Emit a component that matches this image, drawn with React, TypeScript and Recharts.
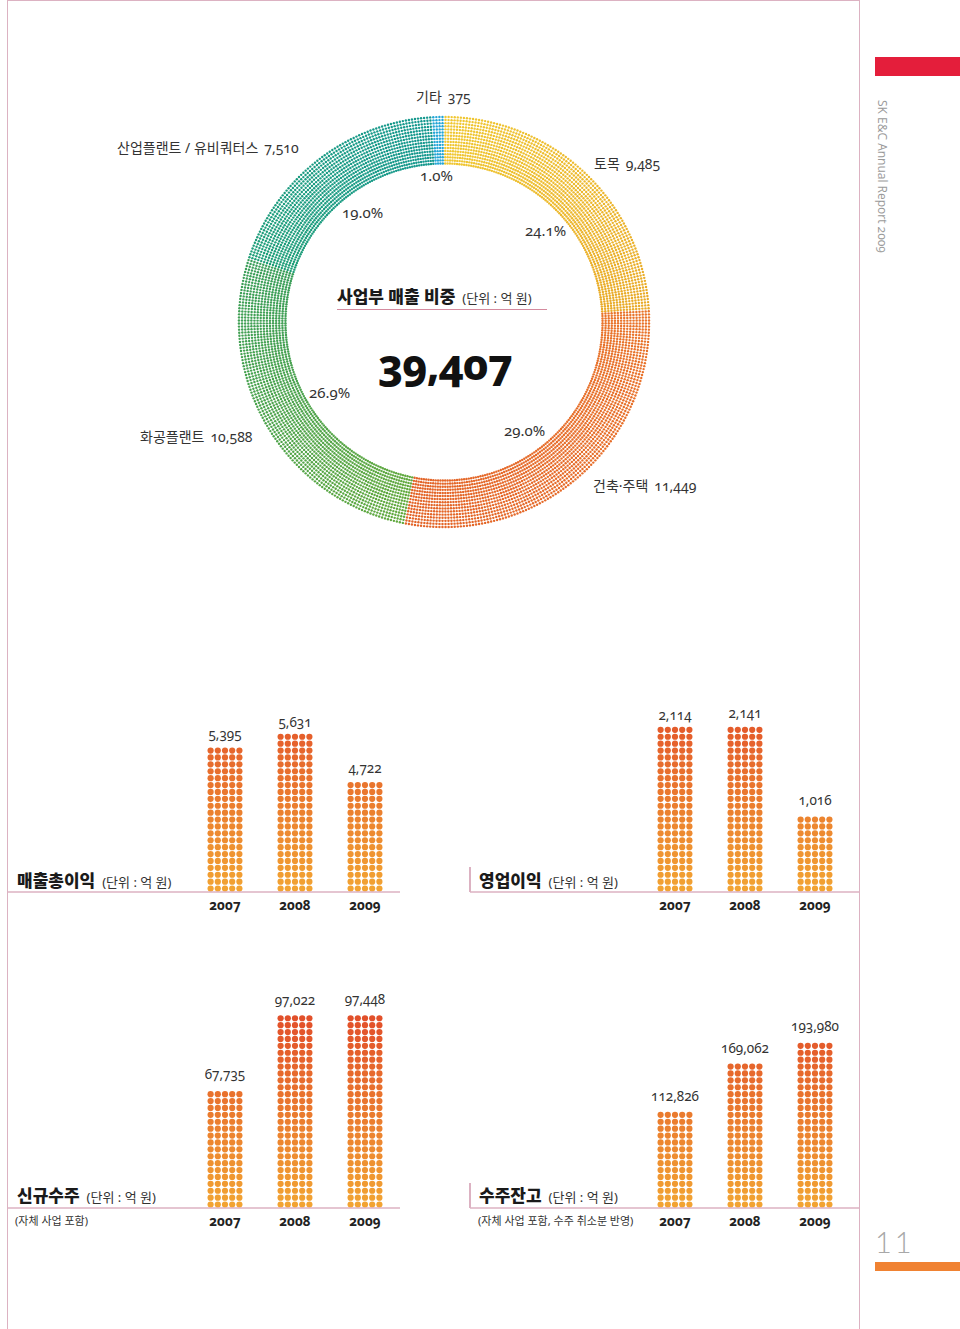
import React from "react";
import { PieChart, Pie, BarChart, Bar, XAxis, YAxis, LabelList } from "recharts";

// 사업부 매출 비중 (단위: 억 원), clockwise from 12 o'clock
const SEGMENT_NAMES = ["토목", "건축·주택", "화공플랜트", "산업플랜트 / 유비쿼터스", "기타"];
const SEGMENT_VALUES = [9485, 11449, 10588, 7510, 375];
const SEGMENT_SHARES = ["24.1%", "29.0%", "26.9%", "19.0%", "1.0%"];
const TOTAL_SALES = 39407;

const YEARS = ["2007", "2008", "2009"];
const GROSS_PROFIT = [5395, 5631, 4722];
const OPERATING_PROFIT = [2114, 2141, 1016];
const NEW_ORDERS = [67735, 97022, 97448];
const ORDER_BACKLOG = [112826, 169062, 193980];

const FONT = "'Noto Sans', 'Noto Sans CJK KR', sans-serif";
const PINK = "#dcb2c2";

// slice colours (start -> end, clockwise)
const SLICE_COLORS: [string, string][] = [
  ["#f0c832", "#e9aa28"],
  ["#e9742a", "#e36428"],
  ["#62a93e", "#3a9e5a"],
  ["#1f9e78", "#15988f"],
  ["#24a6d6", "#24a6d6"],
];
// label anchors: [left, centerY]
const NAME_POS = [[594, 164], [593, 486], [140, 437], [117, 148], [416, 97]];
const SHARE_POS = [[525, 230], [504, 430], [309, 392], [342, 212], [420, 175]];

const SPOKES = 420;
const RING_STEP = 3.1;
const BAR_COLS = 5;
const ROW_STEP = 6.9;
const BAR_BOTTOM = "#f2a332";
const BAR_TOP = "#e2502a";

function hexToRgb(h: string) {
  const n = parseInt(h.slice(1), 16);
  return [(n >> 16) & 255, (n >> 8) & 255, n & 255];
}
function lerpColor(a: string, b: string, t: number) {
  const ca = hexToRgb(a);
  const cb = hexToRgb(b);
  const c = ca.map((v, i) => Math.round(v + (cb[i] - v) * t));
  return `rgb(${c[0]},${c[1]},${c[2]})`;
}

// dotted ring: draws spokes of small dots inside each pie sector
function renderRingDots(props: any) {
  const { cx, cy, innerRadius, outerRadius, startAngle, endAngle, index } = props;
  const [c0, c1] = SLICE_COLORS[index] ?? ["#999", "#999"];
  const lo = Math.min(startAngle, endAngle);
  const hi = Math.max(startAngle, endAngle);
  const span = hi - lo || 1;
  const step = 360 / SPOKES;
  const rows = Math.floor((outerRadius - innerRadius) / RING_STEP);
  const dots: React.ReactElement[] = [];
  const kStart = Math.ceil(lo / step - 0.5);
  for (let k = kStart; (k + 0.5) * step < hi; k++) {
    const a = (k + 0.5) * step;
    if (a < lo) continue;
    const fill = lerpColor(c0, c1, (startAngle - a) / (startAngle - endAngle || span));
    const rad = (-a * Math.PI) / 180;
    for (let r = 0; r < rows; r++) {
      const rr = innerRadius + RING_STEP * (r + 0.5);
      dots.push(
        <circle key={`${k}-${r}`} cx={cx + rr * Math.cos(rad)} cy={cy + rr * Math.sin(rad)} r={1.2} fill={fill} />
      );
    }
  }
  return <g key={`ring-${index}`}>{dots}</g>;
}

function DotBar(props: any) {
  const { x, y, width, height } = props;
  if (!height || height <= 0) return null;
  const rows = Math.max(1, Math.round(height / ROW_STEP));
  const bottom = y + height;
  const colStep = width / BAR_COLS;
  const dots: React.ReactElement[] = [];
  for (let r = 0; r < rows; r++) {
    const fill = lerpColor(BAR_BOTTOM, BAR_TOP, Math.min(1, r / 27));
    const cyy = bottom - ROW_STEP * (r + 0.5);
    for (let c = 0; c < BAR_COLS; c++) {
      dots.push(<circle key={`${r}-${c}`} cx={x + colStep * (c + 0.5)} cy={cyy} r={3.1} fill={fill} />);
    }
  }
  return <g>{dots}</g>;
}

interface DotBarChartProps {
  values: number[];
  domain: [number, number];
  left: number;
  top: number;
  width: number;
  plotHeight: number;
  padLeft: number;
  padRight: number;
}

function DotBarChart({ values, domain, left, top, width, plotHeight, padLeft, padRight }: DotBarChartProps) {
  const data = YEARS.map((year, i) => ({ year, value: values[i] }));
  return (
    <div style={{ position: "absolute", left, top }}>
      <BarChart
        width={width}
        height={20 + plotHeight + 38}
        data={data}
        margin={{ top: 20, right: 0, bottom: 0, left: 0 }}
        barSize={36}
      >
        <XAxis
          dataKey="year"
          height={38}
          interval={0}
          padding={{ left: padLeft, right: padRight }}
          axisLine={{ stroke: PINK, strokeWidth: 1.5 }}
          tickLine={false}
          tick={{ fontSize: 13.5, fontWeight: 700, fill: "#222" }}
        />
        <YAxis hide type="number" domain={domain} allowDataOverflow />
        <Bar dataKey="value" shape={DotBar} isAnimationActive={false}>
          <LabelList
            dataKey="value"
            position="top"
            offset={9}
            fill="#333"
            fontSize={13.5}
            formatter={(v: any) => Number(v).toLocaleString("en-US")}
          />
        </Bar>
      </BarChart>
    </div>
  );
}

function Txt({ left, cy, size, children, style }: any) {
  return (
    <div
      style={{
        position: "absolute",
        left,
        top: cy,
        transform: "translateY(-50%)",
        fontSize: size,
        lineHeight: 1,
        whiteSpace: "nowrap",
        color: "#333",
        ...style,
      }}
    >
      {children}
    </div>
  );
}

function Title({ left, cy, title, unit = true }: { left: number; cy: number; title: string; unit?: boolean }) {
  return (
    <Txt left={left} cy={cy} size={17} style={{ color: "#1a1a1a" }}>
      <span style={{ fontWeight: 900 }}>{title}</span>
      {unit && <span style={{ fontSize: 13, marginLeft: 7, color: "#333" }}>(단위 : 억 원)</span>}
    </Txt>
  );
}

export default function App() {
  const pieData = SEGMENT_NAMES.map((name, i) => ({ name, value: SEGMENT_VALUES[i] }));

  return (
    <div
      style={{
        position: "absolute",
        left: 0,
        top: 0,
        width: 960,
        height: 1329,
        background: "#fff",
        overflow: "hidden",
        fontFamily: FONT,
        fontVariantNumeric: "oldstyle-nums",
      }}
    >
      {/* page frame */}
      <div
        style={{
          position: "absolute",
          left: 7,
          top: 0,
          width: 851,
          height: 1340,
          borderLeft: `1.5px solid ${PINK}`,
          borderTop: `1.5px solid ${PINK}`,
          borderRight: `1.5px solid ${PINK}`,
        }}
      />

      {/* side decorations */}
      <div style={{ position: "absolute", left: 875, top: 57, width: 85, height: 19, background: "#e41e3b" }} />
      <div
        style={{
          position: "absolute",
          left: 874,
          top: 100,
          writingMode: "vertical-rl",
          fontFamily: "'Open Sans', sans-serif",
          fontSize: 12,
          color: "#9a9a9a",
          whiteSpace: "nowrap",
        }}
      >
        SK E&amp;C Annual Report 2009
      </div>
      <div
        style={{
          position: "absolute",
          left: 875,
          top: 1227,
          fontFamily: "Lato, sans-serif",
          fontWeight: 300,
          fontSize: 29,
          letterSpacing: 3,
          color: "#a8a8a8",
          lineHeight: 1,
          fontVariantNumeric: "lining-nums",
        }}
      >
        11
      </div>
      <div style={{ position: "absolute", left: 875, top: 1262, width: 85, height: 9, background: "#f08232" }} />

      {/* donut */}
      <div style={{ position: "absolute", left: 224, top: 102 }}>
        <PieChart width={440} height={440} margin={{ top: 0, right: 0, bottom: 0, left: 0 }}>
          <Pie
            data={pieData}
            dataKey="value"
            cx={220}
            cy={220}
            innerRadius={157}
            outerRadius={208}
            startAngle={90}
            endAngle={-270}
            fill="none"
            stroke="none"
            label={renderRingDots}
            labelLine={false}
            isAnimationActive={false}
          />
        </PieChart>
      </div>
      {SEGMENT_NAMES.map((name, i) => (
        <Txt key={name} left={NAME_POS[i][0]} cy={NAME_POS[i][1]} size={14}>
          {name}
          <span style={{ marginLeft: 6 }}>{SEGMENT_VALUES[i].toLocaleString("en-US")}</span>
        </Txt>
      ))}
      {SEGMENT_SHARES.map((s, i) => (
        <Txt key={s} left={SHARE_POS[i][0]} cy={SHARE_POS[i][1]} size={15}>
          {s}
        </Txt>
      ))}
      <Title left={337} cy={296} title="사업부 매출 비중" />
      <div style={{ position: "absolute", left: 337, top: 309, width: 210, height: 1, background: "#d48a9e" }} />
      <Txt left={345} cy={363} size={43} style={{ width: 200, textAlign: "center", fontWeight: 800, color: "#111", letterSpacing: -1 }}>
        {TOTAL_SALES.toLocaleString("en-US")}
      </Txt>

      {/* 매출총이익 / 영업이익 */}
      <DotBarChart values={GROSS_PROFIT} domain={[2580, 6330]} left={8} top={680} width={392} plotHeight={192} padLeft={182} padRight={0} />
      <DotBarChart values={OPERATING_PROFIT} domain={[0, 2490]} left={470} top={680} width={390} plotHeight={192} padLeft={170} padRight={10} />
      <Title left={17} cy={880} title="매출총이익" />
      <Title left={479} cy={880} title="영업이익" />
      <div style={{ position: "absolute", left: 469, top: 867, width: 1.5, height: 25, background: PINK }} />

      {/* 신규수주 / 수주잔고 */}
      <DotBarChart values={NEW_ORDERS} domain={[20000, 102600]} left={8} top={980} width={392} plotHeight={208} padLeft={182} padRight={0} />
      <DotBarChart values={ORDER_BACKLOG} domain={[0, 240200]} left={470} top={980} width={390} plotHeight={208} padLeft={170} padRight={10} />
      <Title left={17} cy={1195} title="신규수주" />
      <Title left={479} cy={1195} title="수주잔고" />
      <div style={{ position: "absolute", left: 469, top: 1183, width: 1.5, height: 25, background: PINK }} />
      <Txt left={15} cy={1220} size={11}>(자체 사업 포함)</Txt>
      <Txt left={478} cy={1220} size={11}>(자체 사업 포함, 수주 취소분 반영)</Txt>
    </div>
  );
}
